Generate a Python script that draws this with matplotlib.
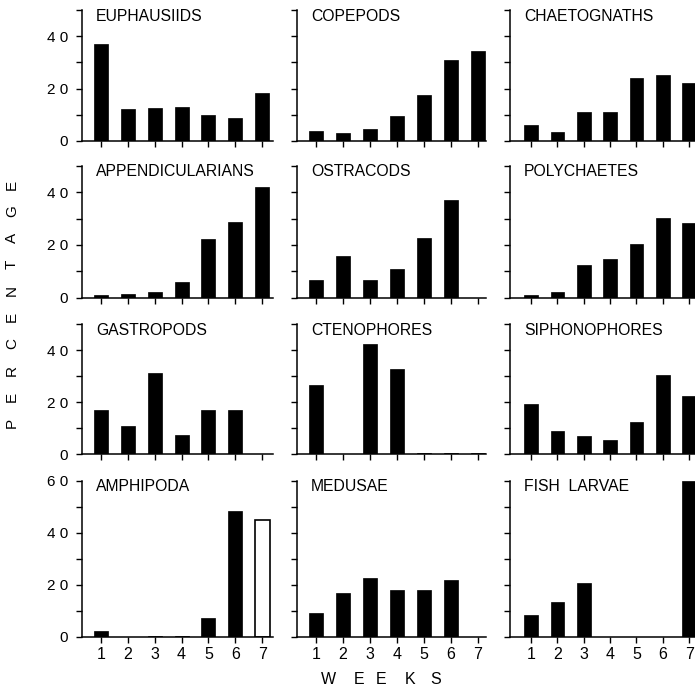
import matplotlib
matplotlib.use('Agg')
import matplotlib.pyplot as plt
from matplotlib.ticker import FixedLocator, NullFormatter, FixedFormatter

plt.rcParams['font.family'] = ['Liberation Sans', 'DejaVu Sans']

weeks = [1, 2, 3, 4, 5, 6, 7]
week_labels = ['1', '2', '3', '4', '5', '6', '7']

euphausiids = [37.0, 12.2, 12.6, 13.1, 9.8, 8.7, 18.4]
copepods = [3.9, 2.9, 4.4, 9.5, 17.5, 31.0, 34.5]
chaetognaths = [6.2, 3.3, 11.1, 11.1, 24.0, 25.2, 22.3]
appendicularians = [1.0, 1.5, 2.3, 6.0, 22.2, 28.8, 42.0]
ostracods = [6.8, 15.8, 6.8, 10.9, 22.5, 37.1, 0.0]
polychaetes = [1.1, 2.0, 12.2, 14.7, 20.5, 30.1, 28.2]
gastropods = [17.1, 10.8, 31.3, 7.4, 17.1, 17.1, 0.0]
ctenophores = [26.5, 0.0, 42.5, 32.8, 0.4, 0.4, 0.4]
siphonophores = [19.2, 9.1, 7.0, 5.6, 12.5, 30.5, 22.3]
amphipoda = [2.3, 0.0, 0.4, 0.4, 7.2, 48.3, 44.9]
medusae = [9.0, 17.0, 22.5, 17.9, 18.0, 22.0, 0.0]
fish_larvae = [8.3, 13.3, 20.5, 0.0, 0.0, 0.0, 60.0]

panels = [
    ('EUPHAUSIIDS', euphausiids), ('COPEPODS', copepods), ('CHAETOGNATHS', chaetognaths),
    ('APPENDICULARIANS', appendicularians), ('OSTRACODS', ostracods), ('POLYCHAETES', polychaetes),
    ('GASTROPODS', gastropods), ('CTENOPHORES', ctenophores), ('SIPHONOPHORES', siphonophores),
    ('AMPHIPODA', amphipoda), ('MEDUSAE', medusae), ('FISH  LARVAE', fish_larvae),
]
row_ymax = [50, 50, 50, 60]
# the open (unfilled) bar: AMPHIPODA week 7
open_bar = (9, 6)

W, H = 695, 687
fig = plt.figure(figsize=(W / 100, H / 100), dpi=100)

cols = [(82, 273, 0.3, 7.4), (297, 486, 0.3, 7.3), (510, 697, 0.2, 7.3)]
rows = [(10, 141), (165.7, 297.7), (324, 454.3), (480.7, 636.7)]

for idx, (title, vals) in enumerate(panels):
    r, c = divmod(idx, 3)
    left, right, x0, x1 = cols[c]
    top, bottom = rows[r]
    ax = fig.add_axes([left / W, 1 - bottom / H, (right - left) / W, (bottom - top) / H])
    ymax = row_ymax[r]
    for i, (wk, v) in enumerate(zip(weeks, vals)):
        if (idx, i) == open_bar:
            ax.bar(wk, v, width=0.55, color='white', edgecolor='black', linewidth=1.2)
        else:
            ax.bar(wk, v, width=0.52, color='black', edgecolor='black', linewidth=0.5)
    ax.set_xlim(x0, x1)
    ax.set_ylim(0, ymax)
    for s in ['top', 'right']:
        ax.spines[s].set_visible(False)
    for s in ['left', 'bottom']:
        ax.spines[s].set_linewidth(1.1)
    major = list(range(0, ymax + 1, 20))
    minor = [m for m in range(10, ymax + 1, 10) if m not in major]
    ax.yaxis.set_major_locator(FixedLocator(major))
    ax.yaxis.set_minor_locator(FixedLocator(minor))
    ax.yaxis.set_minor_formatter(NullFormatter())
    if c == 0:
        ax.yaxis.set_major_formatter(FixedFormatter([' '.join(str(m)) for m in major]))
    else:
        ax.yaxis.set_major_formatter(NullFormatter())
    ax.tick_params(axis='y', which='both', direction='out', length=4, width=1.0,
                   labelsize=11, pad=6)
    ax.set_xticks(weeks)
    if r == 3:
        ax.set_xticklabels(week_labels)
    else:
        ax.set_xticklabels([])
    ax.tick_params(axis='x', direction='out', length=4.5, width=1.0, labelsize=11.5, pad=3)
    ax.annotate(title, xy=(0, 1), xycoords='axes fraction', xytext=(10, -4.5),
                textcoords='offset points', ha='left', va='center', fontsize=11.3)

# y label: spaced letters
word = 'PERCENTAGE'
y_start, y_end = 423, 185
for i, ch in enumerate(word):
    y = y_start + (y_end - y_start) * i / (len(word) - 1)
    fig.text(12 / W, 1 - y / H, ch, rotation=90, ha='center', va='center', fontsize=11)

for ch, x in zip('WEEKS', [328, 359, 381, 410, 436]):
    fig.text(x / W, 1 - 679 / H, ch, ha='center', va='center', fontsize=11.5)

fig.savefig('out.png', dpi=100)
